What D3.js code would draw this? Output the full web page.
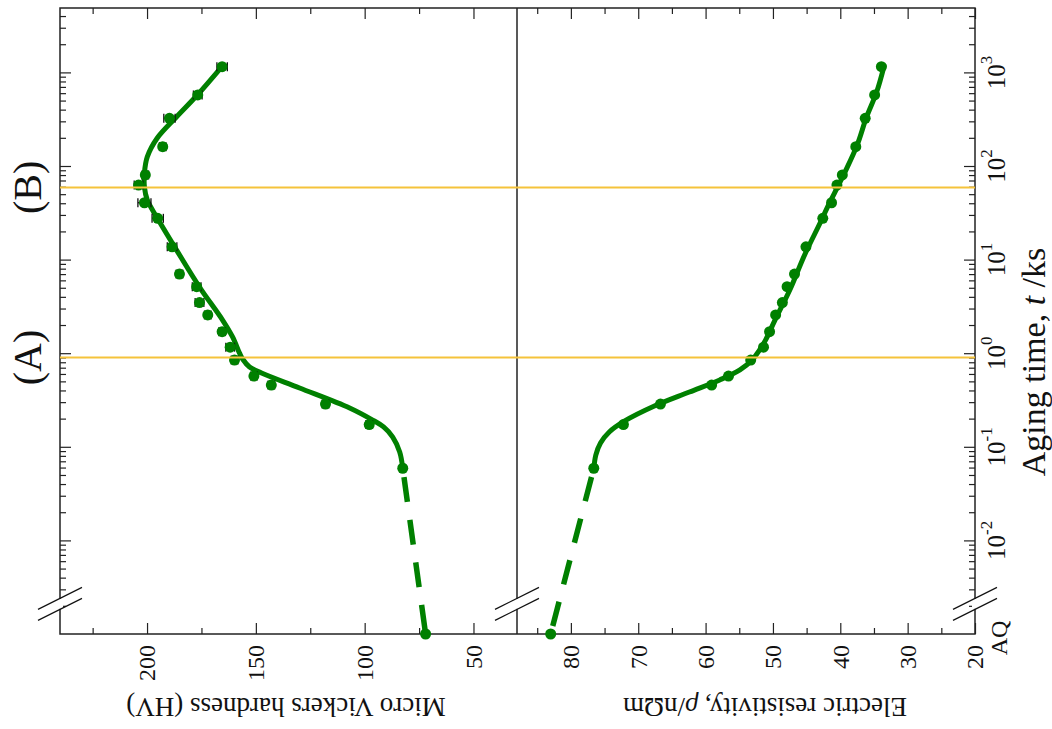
<!DOCTYPE html>
<html>
<head>
<meta charset="utf-8">
<script src="https://cdn.jsdelivr.net/npm/d3@7"></script>
<style>
  body { margin: 0; background: #fff; }
  text { font-family: "Liberation Serif", "Times New Roman", Times, serif; fill: #111; }
</style>
</head>
<body>
<svg id="chart" width="1052" height="729"></svg>
<script>
// ---- data -------------------------------------------------------------
// Aging times (ks) of the measured samples
const agingTime = [0.059, 0.173, 0.286, 0.457, 0.57, 0.845, 1.16, 1.70, 2.56, 3.47,
                   5.13, 7.0, 13.7, 27.6, 40.5, 62.6, 80.2, 161, 323, 574, 1150];
// Micro Vickers hardness (HV) and its scatter
const hardnessHV  = [82.5, 97.9, 118, 142.9, 150.9, 159.8, 161.8, 165.5, 172.1, 175.9,
                     177.2, 185.1, 188.5, 195.1, 201.2, 203.9, 200.8, 192.8, 189.7, 176.7, 165.5];
const hardnessErr = [1, 1.5, 1.5, 1.5, 1.5, 1.5, 2, 1.5, 1.5, 2,
                     2, 1.5, 2.2, 2.6, 3, 2, 1.5, 1.5, 2.6, 2, 2.4];
// Electric resistivity (nΩm)
const resistivity = [76.6, 72.2, 66.7, 59.1, 56.6, 53.3, 51.4, 50.5, 49.6, 48.6,
                     47.9, 46.8, 45.1, 42.6, 41.3, 40.5, 39.7, 37.7, 36.3, 34.9, 33.9];

// As-quenched state, placed at the lower end of the time axis
const aqTime = 0.001;
const hardnessAQ = 72;
const hardnessAQErr = 1;
const resistivityAQ = 83;

// Fitted trend curves
const hardnessFitTime = [0.059, 0.088, 0.127, 0.163, 0.193, 0.260, 0.425, 0.614, 0.713, 0.867,
                         1.00, 1.49, 2.26, 5.09, 12.7, 27.8, 43.4, 59.7, 84.1, 125, 199, 334, 574, 1170];
const hardnessFitHV   = [82.5, 83.9, 87.1, 91.3, 96.3, 106.9, 129.9, 147.4, 152.9, 156.1,
                         157.5, 160.7, 165.3, 175.9, 186.5, 195.3, 199.9, 201.2, 201.2, 199.9, 195.3, 186.5, 176.9, 165.4];
const resistivityFitTime = [0.058, 0.0817, 0.110, 0.144, 0.189, 0.273, 0.385, 0.518, 0.662, 0.845,
                            1.08, 1.38, 2.26, 4.73, 11.2, 24.6, 40.3, 59.7, 86.3, 167, 334, 618, 1170];
const resistivityFit     = [76.6, 76.3, 75.6, 74.3, 72.0, 67.6, 62.4, 57.9, 54.9, 53.1,
                            52.0, 51.1, 49.7, 47.5, 45.3, 43.0, 41.6, 40.4, 39.3, 37.5, 36.1, 34.6, 33.5];

// Reference aging stages
const stageTime  = [0.9, 59];
const stageLabel = ["(A)", "(B)"];

// Axis ticks
const timeMajor = [0.01, 0.1, 1, 10, 100, 1000];
const timeExp   = ["-2", "-1", "0", "1", "2", "3"];
const timeBreak = 0.0021;
const hardnessTicks = [50, 100, 150, 200];
const hardnessMinor = [75, 125, 175, 225];
const resistivityTicks = [20, 30, 40, 50, 60, 70, 80];
const resistivityMinor = [25, 35, 45, 55, 65, 75, 85];

// ---- layout -----------------------------------------------------------
const frame = { left: 60, mid: 517, right: 975, top: 8, bottom: 634 };
const green = "#008000";
const axisColor = "#222";

const svg = d3.select("#chart");

const y  = d3.scaleLog().domain([aqTime, 4875]).range([frame.bottom, frame.top]);
const xH = d3.scaleLinear().domain([240, 30]).range([frame.left, frame.mid]);
const xR = d3.scaleLinear().domain([88, 20]).range([frame.mid, frame.right]);

// minor ticks of the log axis (2..9 per decade)
const timeMinor = [];
for (let e = -3; e <= 3; e++) {
  for (let k = 2; k <= 9; k++) {
    const v = k * Math.pow(10, e);
    if (v < y.domain()[1]) timeMinor.push(v);
  }
}

function styleAxis(g) {
  g.select(".domain").remove();
  g.selectAll(".tick line").attr("stroke", axisColor).attr("stroke-width", 1.2);
}

// ---- ticks ------------------------------------------------------------
const axes = svg.append("g");
// time axis on both outer verticals, ticks pointing inward
axes.append("g").attr("transform", `translate(${frame.left},0)`)
  .call(d3.axisRight(y).tickValues(timeMajor).tickSize(11).tickFormat("")).call(styleAxis);
axes.append("g").attr("transform", `translate(${frame.left},0)`)
  .call(d3.axisRight(y).tickValues(timeMinor).tickSize(6).tickFormat("")).call(styleAxis);
axes.append("g").attr("transform", `translate(${frame.right},0)`)
  .call(d3.axisLeft(y).tickValues(timeMajor).tickSize(11).tickFormat("")).call(styleAxis);
axes.append("g").attr("transform", `translate(${frame.right},0)`)
  .call(d3.axisLeft(y).tickValues(timeMinor).tickSize(6).tickFormat("")).call(styleAxis);

// hardness and resistivity axes, bottom and mirrored top
[[xH, hardnessTicks, hardnessMinor], [xR, resistivityTicks, resistivityMinor]].forEach(([sc, maj, min]) => {
  axes.append("g").attr("transform", `translate(0,${frame.bottom})`)
    .call(d3.axisTop(sc).tickValues(maj).tickSize(11).tickFormat("")).call(styleAxis);
  axes.append("g").attr("transform", `translate(0,${frame.bottom})`)
    .call(d3.axisTop(sc).tickValues(min).tickSize(6).tickFormat("")).call(styleAxis);
  axes.append("g").attr("transform", `translate(0,${frame.top})`)
    .call(d3.axisBottom(sc).tickValues(maj).tickSize(11).tickFormat("")).call(styleAxis);
  axes.append("g").attr("transform", `translate(0,${frame.top})`)
    .call(d3.axisBottom(sc).tickValues(min).tickSize(6).tickFormat("")).call(styleAxis);
});

// frame and panel divider
svg.append("rect")
  .attr("x", frame.left).attr("y", frame.top)
  .attr("width", frame.right - frame.left).attr("height", frame.bottom - frame.top)
  .attr("fill", "none").attr("stroke", axisColor).attr("stroke-width", 1.5);
svg.append("line")
  .attr("x1", frame.mid).attr("x2", frame.mid).attr("y1", frame.top).attr("y2", frame.bottom)
  .attr("stroke", axisColor).attr("stroke-width", 1.5);

// axis break marks between AQ and the log range
const by = y(timeBreak);
[frame.left, frame.mid, frame.right].forEach(cx => {
  svg.append("rect").attr("x", cx - 3).attr("y", by - 5).attr("width", 6).attr("height", 10)
    .attr("fill", "#fff");
  [-5.5, 5.5].forEach(off => {
    svg.append("line")
      .attr("x1", cx - 22).attr("y1", by + off + 11)
      .attr("x2", cx + 22).attr("y2", by + off - 11)
      .attr("stroke", "#111").attr("stroke-width", 1.2);
  });
});

// ---- data marks ------------------------------------------------------
const plot = svg.append("g");
const fitLineH = d3.line().x(d => xH(d[1])).y(d => y(d[0])).curve(d3.curveCatmullRom.alpha(0.5));
const fitLineR = d3.line().x(d => xR(d[1])).y(d => y(d[0])).curve(d3.curveCatmullRom.alpha(0.5));

// dashed link from the AQ state to the first aged sample
plot.append("path")
  .attr("d", d3.line().x(d => xH(d[1])).y(d => y(d[0]))([[agingTime[0], hardnessHV[0]], [aqTime, hardnessAQ]]))
  .attr("fill", "none").attr("stroke", green).attr("stroke-width", 5.5)
  .attr("stroke-dasharray", "25,18").attr("stroke-dashoffset", 34);
plot.append("path")
  .attr("d", d3.line().x(d => xR(d[1])).y(d => y(d[0]))([[agingTime[0], resistivity[0]], [aqTime, resistivityAQ]]))
  .attr("fill", "none").attr("stroke", green).attr("stroke-width", 5.5)
  .attr("stroke-dasharray", "25,18").attr("stroke-dashoffset", 34);

plot.append("path").attr("d", fitLineH(d3.zip(hardnessFitTime, hardnessFitHV)))
  .attr("fill", "none").attr("stroke", green).attr("stroke-width", 5).attr("stroke-linecap", "round");
plot.append("path").attr("d", fitLineR(d3.zip(resistivityFitTime, resistivityFit)))
  .attr("fill", "none").attr("stroke", green).attr("stroke-width", 5).attr("stroke-linecap", "round");

// hardness error bars
const hPts = d3.zip([aqTime, ...agingTime], [hardnessAQ, ...hardnessHV], [hardnessAQErr, ...hardnessErr]);
const eb = plot.append("g").attr("stroke", "#111").attr("stroke-width", 1.3);
hPts.forEach(([t, v, e]) => {
  const yy = y(t);
  eb.append("line").attr("x1", xH(v - e)).attr("x2", xH(v + e)).attr("y1", yy).attr("y2", yy);
  [v - e, v + e].forEach(b => {
    eb.append("line").attr("x1", xH(b)).attr("x2", xH(b)).attr("y1", yy - 4.5).attr("y2", yy + 4.5);
  });
});

plot.selectAll("circle.h").data(hPts).join("circle").attr("class", "h")
  .attr("cx", d => xH(d[1])).attr("cy", d => y(d[0])).attr("r", 5.5).attr("fill", green);
const rPts = d3.zip([aqTime, ...agingTime], [resistivityAQ, ...resistivity]);
plot.selectAll("circle.r").data(rPts).join("circle").attr("class", "r")
  .attr("cx", d => xR(d[1])).attr("cy", d => y(d[0])).attr("r", 5.5).attr("fill", green);

// reference stage lines across both panels
stageTime.forEach(t => {
  svg.append("line").attr("x1", frame.left).attr("x2", frame.right)
    .attr("y1", y(t)).attr("y2", y(t))
    .attr("stroke", "#f5c33b").attr("stroke-width", 2);
});
stageTime.forEach((t, i) => {
  svg.append("text").attr("transform", `translate(41,${y(t)}) rotate(-90)`)
    .attr("text-anchor", "middle").attr("font-size", 40).text(stageLabel[i]);
});

// ---- labels ------------------------------------------------------------
const labels = svg.append("g");
hardnessTicks.forEach(v => {
  labels.append("text").attr("transform", `translate(${xH(v)},645) rotate(-90)`)
    .attr("text-anchor", "end").attr("dy", "0.35em").attr("font-size", 24).text(v);
});
resistivityTicks.forEach(v => {
  labels.append("text").attr("transform", `translate(${xR(v)},645) rotate(-90)`)
    .attr("text-anchor", "end").attr("dy", "0.35em").attr("font-size", 24).text(v);
});
timeMajor.forEach((t, i) => {
  const tx = labels.append("text").attr("transform", `translate(996,${y(t)}) rotate(-90)`)
    .attr("text-anchor", "middle").attr("dy", "0.35em").attr("font-size", 25);
  tx.append("tspan").text("10");
  tx.append("tspan").attr("font-size", 17).attr("dy", "-0.75em").text(timeExp[i]);
});
labels.append("text").attr("transform", `translate(999,${y(aqTime) + 4}) rotate(-90)`)
  .attr("text-anchor", "middle").attr("dy", "0.35em").attr("font-size", 24).text("AQ");

// axis titles
labels.append("text").attr("transform", "translate(286,698) rotate(180)")
  .attr("text-anchor", "middle").attr("font-size", 27).text("Micro Vickers hardness (HV)");
const rt = labels.append("text").attr("transform", "translate(765,698) rotate(180)")
  .attr("text-anchor", "middle").attr("font-size", 27);
rt.append("tspan").text("Electric resistivity, ");
rt.append("tspan").attr("font-style", "italic").text("ρ");
rt.append("tspan").text("/nΩm");
const tt = labels.append("text").attr("transform", "translate(1045,362) rotate(-90)")
  .attr("text-anchor", "middle").attr("font-size", 34);
tt.append("tspan").text("Aging time, ");
tt.append("tspan").attr("font-style", "italic").text("t");
tt.append("tspan").text(" /ks");
</script>
</body>
</html>
